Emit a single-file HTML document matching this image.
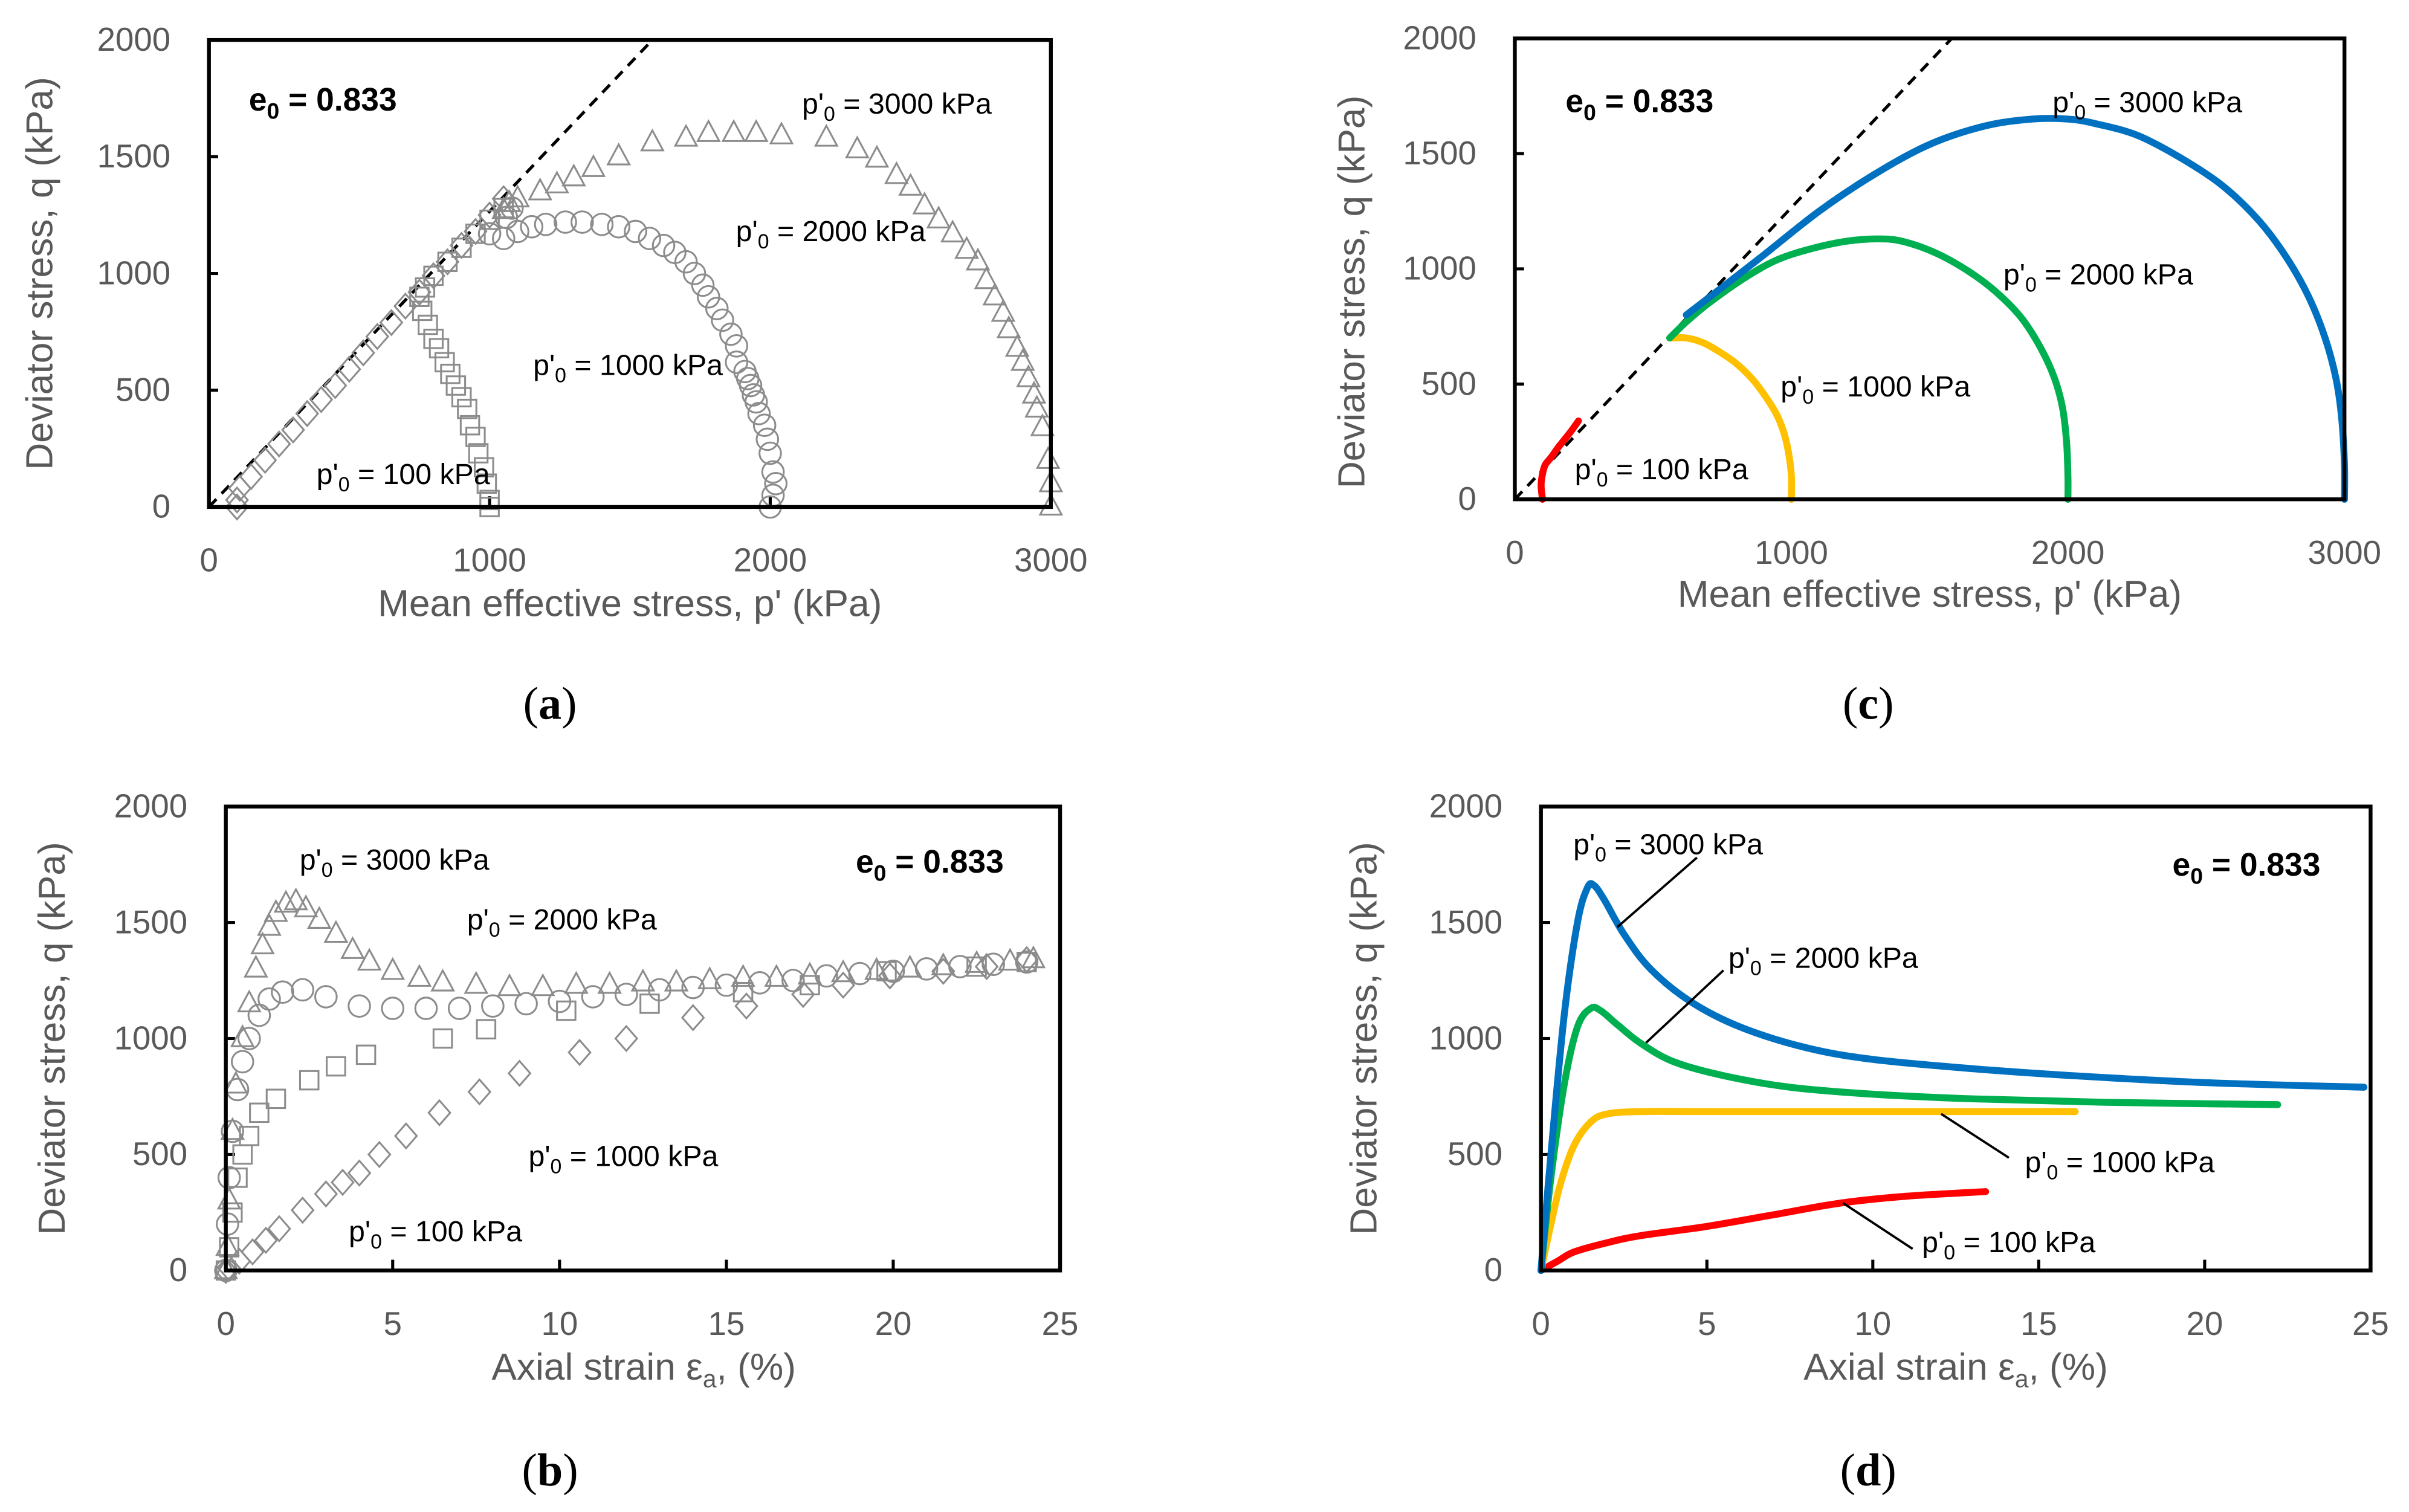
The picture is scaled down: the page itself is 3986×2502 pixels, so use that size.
<!DOCTYPE html>
<html><head><meta charset="utf-8"><style>
html,body{margin:0;padding:0;background:#fff;}
svg{display:block;}
text{font-family:"Liberation Sans",sans-serif;}
text.serif{font-family:"Liberation Serif",serif;}
</style></head><body>
<svg id="fig" width="3986" height="2502" viewBox="0 0 1568 984.2" xmlns="http://www.w3.org/2000/svg">
<rect width="1568" height="984.2" fill="#fff"/>
</svg>
<script>
// ---------- data ----------
const pTicks = [0, 1000, 2000, 3000];
const qTicks = [0, 500, 1000, 1500, 2000];
const eTicks = [0, 5, 10, 15, 20, 25];
const cslEnd = [1580, 2000];
// panel a (p, q) markers
const aDiaP = [100,100,110,150,200,250,300,350,400,450,500,550,600,650,700,750,800,850,900,950,1000,1050];
const aDiaQ = [0,30,80,130,200,270,330,400,460,520,590,660,730,790,860,920,990,1050,1120,1180,1250,1320];
const aSqP = [1000,1000,990,980,960,950,930,920,900,880,860,840,820,800,780,760,750,770,800,850,900,950,1000,1050];
const aSqQ = [0,30,100,170,230,300,350,420,470,520,570,620,680,720,780,840,900,940,990,1050,1110,1170,1230,1280];
const aCirP = [2000,2010,2020,2010,2000,1990,1980,1960,1950,1940,1930,1920,1910,1880,1880,1860,1830,1810,1780,1760,1730,1700,1660,1620,1570,1520,1460,1400,1330,1270,1200,1150,1100,1050,1000,1060,1080];
const aCirQ = [0,50,100,150,230,290,350,400,450,480,520,550,580,620,690,740,800,850,900,950,1000,1050,1090,1120,1150,1180,1200,1210,1220,1220,1210,1200,1180,1150,1170,1240,1280];
const aTriP = [3000,3000,2990,2970,2950,2940,2920,2900,2880,2850,2830,2800,2770,2740,2700,2650,2600,2550,2500,2450,2380,2310,2200,2040,1950,1870,1780,1700,1580,1460,1370,1300,1240,1180,1100,1070,1050];
const aTriQ = [0,100,200,340,420,480,550,620,680,760,830,900,970,1050,1100,1170,1230,1290,1370,1420,1490,1530,1580,1590,1600,1600,1600,1580,1560,1500,1450,1410,1380,1350,1320,1300,1270];
// panel b (strain, q) markers
const bTriE = [0,0.05,0.1,0.2,0.3,0.5,0.7,0.9,1.1,1.3,1.5,1.8,2.1,2.4,2.8,3.3,3.8,4.3,5,5.8,6.5,7.5,8.5,9.5,10.5,11.5,12.5,13.5,14.5,15.5,16.5,17.5,18.5,19.5,20.5,21.5,22.5,23.5,24.2];
const bTriQ = [0,100,300,600,800,1000,1150,1300,1400,1480,1540,1580,1590,1560,1510,1450,1380,1330,1290,1260,1240,1230,1220,1220,1230,1230,1240,1240,1250,1260,1260,1270,1280,1290,1300,1310,1320,1330,1340];
const bCirE = [0,0.05,0.1,0.2,0.35,0.5,0.7,1,1.3,1.7,2.3,3,4,5,6,7,8,9,10,11,12,13,14,15,16,17,18,19,20,21,22,23,24];
const bCirQ = [0,200,400,600,780,900,1000,1100,1170,1200,1210,1180,1140,1130,1130,1130,1140,1150,1160,1180,1190,1210,1220,1230,1240,1250,1270,1280,1290,1300,1310,1320,1330];
const bSqE = [0,0.1,0.2,0.35,0.5,0.7,1,1.5,2.5,3.3,4.2,6.5,7.8,10.2,12.7,15.5,17.5,19.8,22.5,24];
const bSqQ = [0,100,250,400,500,580,680,740,820,880,930,1000,1040,1120,1150,1200,1230,1290,1310,1330];
const bDiaE = [0,0.1,0.4,0.8,1.2,1.6,2.3,3,3.5,4,4.6,5.4,6.4,7.6,8.8,10.6,12,14,15.6,17.3,18.5,19.9,21.5,22.8,24];
const bDiaQ = [0,10,40,80,130,180,260,330,380,420,500,580,680,770,850,940,1000,1090,1140,1190,1230,1270,1290,1310,1340];
// panel c (p, q) lines
const cRedP = [100,95,100,110,130,160,200,230];
const cRedQ = [0,60,110,150,180,230,290,340];
const cYelP = [1000,1000,990,975,950,910,860,800,740,680,620,560];
const cYelQ = [0,100,200,280,360,440,520,590,640,680,700,700];
const cGrnP = [2000,2000,1995,1980,1950,1900,1830,1740,1640,1520,1400,1310,1200,1080,950,830,700,620,560];
const cGrnQ = [0,100,250,400,530,660,790,900,990,1070,1120,1130,1120,1090,1040,960,850,770,700];
const cBluP = [3000,3000,2990,2970,2930,2870,2790,2690,2560,2410,2250,2100,2000,1870,1700,1500,1300,1100,900,750,620];
const cBluQ = [0,150,350,520,700,880,1050,1210,1360,1480,1580,1630,1650,1650,1620,1540,1410,1250,1060,920,800];
// panel d (strain, q) lines
const dBluE = [0,0.3,0.7,1.1,1.4,1.6,1.9,2.5,3.3,4.5,6,8,10,13,16,20,24.8];
const dBluQ = [0,500,1100,1500,1650,1660,1600,1450,1300,1160,1050,960,910,870,840,810,790];
const dGrnE = [0,0.3,0.7,1.1,1.5,1.8,2.3,3,4,5.5,7.5,10,13,17,22.2];
const dGrnQ = [0,400,800,1050,1130,1120,1060,980,900,840,790,760,740,725,715];
const dYelE = [0,0.3,0.6,1,1.5,2,3,5,10,16.1];
const dYelQ = [0,200,380,540,640,675,685,685,685,685];
const dRedE = [0,0.5,1,2,3,5,7,9,11,13.4];
const dRedQ = [0,40,80,120,150,190,240,290,320,340];

// ---------- helpers ----------
const NS = "http://www.w3.org/2000/svg";
const svg = document.getElementById('fig');
function mk(tag, attrs, parent){
  const e = document.createElementNS(NS, tag);
  for (const k in attrs) e.setAttribute(k, attrs[k]);
  (parent || svg).appendChild(e);
  return e;
}
const GRAY = "#595959", MK = "#8c8c8c";
function axis(x0,x1,y0,y1,xmax,ymax){
  return {x:v=>x0+(x1-x0)*v/xmax, y:v=>y0-(y0-y1)*v/ymax, x0,x1,y0,y1};
}
function label(g, x, y, main, sub, tail, size, bold, anchor){
  const t = mk('text',{x:x,y:y,'font-size':size,fill:'#000','font-weight':bold?'bold':'normal','text-anchor':anchor||'start'},g);
  t.appendChild(document.createTextNode(main));
  const s = mk('tspan',{'font-size':size*0.7,dy:size*0.25},t); s.textContent = sub;
  const r = mk('tspan',{dy:-size*0.25},t); r.textContent = tail;
  return t;
}
function frame(g, A, xt, yt, xlabY, ylabX, xTitle, yTitle, xTitleX, xTitleY, yTitleX, yTitleY, cap, capX, capY, xmax, ymax){
  for (const v of yt){
    const t = mk('text',{x:ylabX,y:A.y(v)+7,'font-size':21.5,fill:GRAY,'text-anchor':'end'},g);
    
    
    t.textContent = v;
    if (v>0 && v<ymax) mk('line',{x1:A.x0,x2:A.x0+6,y1:A.y(v),y2:A.y(v),stroke:'#000','stroke-width':2},g);
  }
  for (const v of xt){
    const t = mk('text',{x:A.x(v),y:xlabY,'font-size':21.5,fill:GRAY,'text-anchor':'middle'},g);
    
    
    t.textContent = v;
    if (v>0 && v<xmax) mk('line',{x1:A.x(v),x2:A.x(v),y1:A.y0,y2:A.y0-7,stroke:'#000','stroke-width':2},g);
  }
  const xt2 = mk('text',{x:xTitleX,y:xTitleY,'font-size':24.5,fill:GRAY,'text-anchor':'middle'},g);
  
  
  xt2.innerHTML = xTitle;
  const yt2 = mk('text',{x:0,y:0,'font-size':24.5,fill:GRAY,'text-anchor':'middle',transform:`translate(${yTitleX},${yTitleY}) rotate(-90)`},g);
  
  
  yt2.textContent = yTitle;
  const c = mk('text',{x:capX,y:capY,'font-size':30,fill:'#000','text-anchor':'middle','class':'serif'},g);
  
  
  c.innerHTML = '(<tspan font-weight="bold">'+cap+'</tspan>)';
}
function box(g,A){
  const r = mk('rect',{x:A.x0,y:A.y1,width:A.x1-A.x0,height:A.y0-A.y1,fill:'none',stroke:'#000','stroke-width':2.5},g);
  
  
}
function marker(g, shape, cx, cy){
  let e;
  if (shape==='tri') e = mk('polygon',{points:`${cx},${cy-8} ${cx-7},${cy+5} ${cx+7},${cy+5}`},g);
  else if (shape==='cir') e = mk('circle',{cx:cx,cy:cy,r:7},g);
  else if (shape==='sq') e = mk('rect',{x:cx-6,y:cy-6,width:12,height:12},g);
  else e = mk('polygon',{points:`${cx},${cy-8} ${cx+7},${cy} ${cx},${cy+8} ${cx-7},${cy}`},g);
  e.setAttribute('fill','none'); e.setAttribute('stroke',MK); e.setAttribute('stroke-width',1.2);
  return e;
}
function series(g, A, xs, ys, shape, name){
  const sg = mk('g',{},g);
  
  
  for (let i=0;i<xs.length;i++){
    const m = marker(sg, shape, A.x(xs[i]), A.y(ys[i]));
    
    
  }
}
function line(g, A, xs, ys, color, name){
  // Catmull-Rom smoothing through data points
  const P = xs.map((v,i)=>[A.x(v),A.y(ys[i])]);
  let d = 'M'+P[0][0].toFixed(2)+','+P[0][1].toFixed(2);
  for (let i=0;i<P.length-1;i++){
    const p0=P[Math.max(i-1,0)], p1=P[i], p2=P[i+1], p3=P[Math.min(i+2,P.length-1)];
    const c1=[p1[0]+(p2[0]-p0[0])/6, p1[1]+(p2[1]-p0[1])/6];
    const c2=[p2[0]-(p3[0]-p1[0])/6, p2[1]-(p3[1]-p1[1])/6];
    d += 'C'+c1[0].toFixed(2)+','+c1[1].toFixed(2)+' '+c2[0].toFixed(2)+','+c2[1].toFixed(2)+' '+p2[0].toFixed(2)+','+p2[1].toFixed(2);
  }
  const p = mk('path',{d:d,fill:'none',stroke:color,'stroke-width':4.5,'stroke-linejoin':'round','stroke-linecap':'round'},g);
  
  
}
function csl(g,A){
  const l = mk('line',{x1:A.x(0),y1:A.y(0),x2:A.x(cslEnd[0]),y2:A.y(cslEnd[1]),stroke:'#000','stroke-width':2,'stroke-dasharray':'7,5'},g);
  
  
}
function lead(g,A,e1,q1,e2,q2){
  const l = mk('line',{x1:A.x(e1),y1:A.y(q1),x2:A.x(e2),y2:A.y(q2),stroke:'#000','stroke-width':1.5},g);
  
  
}
const pT = 'Mean effective stress, p\' (kPa)';
const eT = 'Axial strain ε<tspan font-size="16" dy="5">a</tspan><tspan dy="-5">, (%)</tspan>';
const qT = 'Deviator stress, q (kPa)';

// ---------- panel a ----------
const ga = mk('g',{});  
const A = axis(136,684,330,26,3000,2000);
frame(ga,A,pTicks,qTicks,372,111,pT,qT,410,401,34,178,'a',358,468,3000,2000);
csl(ga,A);
series(ga,A,aDiaP,aDiaQ,'dia','series-100kpa');
series(ga,A,aSqP,aSqQ,'sq','series-1000kpa');
series(ga,A,aCirP,aCirQ,'cir','series-2000kpa');
series(ga,A,aTriP,aTriQ,'tri','series-3000kpa');
box(ga,A);
label(ga,162,72,'e','0',' = 0.833',21,true);
label(ga,522,74,"p'",'0',' = 3000 kPa',19);
label(ga,479,157,"p'",'0',' = 2000 kPa',19);
label(ga,347,244,"p'",'0',' = 1000 kPa',19);
label(ga,206,315,"p'",'0',' = 100 kPa',19);

// ---------- panel c ----------
const gc = mk('g',{});  
const C = axis(986,1526,325,25,3000,2000);
frame(gc,C,pTicks,qTicks,367,961,pT,qT,1256,395,888,190,'c',1216,468,3000,2000);
csl(gc,C);
line(gc,C,cRedP,cRedQ,'#ff0000','line-100kpa');
line(gc,C,cYelP,cYelQ,'#ffc000','line-1000kpa');
line(gc,C,cGrnP,cGrnQ,'#00b050','line-2000kpa');
line(gc,C,cBluP,cBluQ,'#0070c0','line-3000kpa');
box(gc,C);
label(gc,1019,73,'e','0',' = 0.833',21,true);
label(gc,1336,73,"p'",'0',' = 3000 kPa',19);
label(gc,1304,185,"p'",'0',' = 2000 kPa',19);
label(gc,1159,258,"p'",'0',' = 1000 kPa',19);
label(gc,1025,312,"p'",'0',' = 100 kPa',19);

// ---------- panel b ----------
const gb = mk('g',{});  
const B = axis(147,690,827,525,25,2000);
frame(gb,B,eTicks,qTicks,869,122,eT,qT,419,898,42,676,'b',358,967,25,2000);
series(gb,B,bDiaE,bDiaQ,'dia','series-100kpa');
series(gb,B,bSqE,bSqQ,'sq','series-1000kpa');
series(gb,B,bCirE,bCirQ,'cir','series-2000kpa');
series(gb,B,bTriE,bTriQ,'tri','series-3000kpa');
box(gb,B);
label(gb,557,568,'e','0',' = 0.833',21,true);
label(gb,195,566,"p'",'0',' = 3000 kPa',19);
label(gb,304,605,"p'",'0',' = 2000 kPa',19);
label(gb,344,759,"p'",'0',' = 1000 kPa',19);
label(gb,227,808,"p'",'0',' = 100 kPa',19);

// ---------- panel d ----------
const gd = mk('g',{});  
const D = axis(1003,1543,827,525,25,2000);
frame(gd,D,eTicks,qTicks,869,978,eT,qT,1273,898,896,676,'d',1216,967,25,2000);
line(gd,D,dRedE,dRedQ,'#ff0000','line-100kpa');
line(gd,D,dYelE,dYelQ,'#ffc000','line-1000kpa');
line(gd,D,dGrnE,dGrnQ,'#00b050','line-2000kpa');
line(gd,D,dBluE,dBluQ,'#0070c0','line-3000kpa');
lead(gd,D,4.7,1780,2.3,1480);
lead(gd,D,5.5,1294,3.17,982);
lead(gd,D,12.06,675,14.1,486);
lead(gd,D,9.1,291,11.2,93);
box(gd,D);
label(gd,1414,570,'e','0',' = 0.833',21,true);
label(gd,1024,556,"p'",'0',' = 3000 kPa',19);
label(gd,1125,630,"p'",'0',' = 2000 kPa',19);
label(gd,1318,763,"p'",'0',' = 1000 kPa',19);
label(gd,1251,815,"p'",'0',' = 100 kPa',19);
</script>
</body></html>
